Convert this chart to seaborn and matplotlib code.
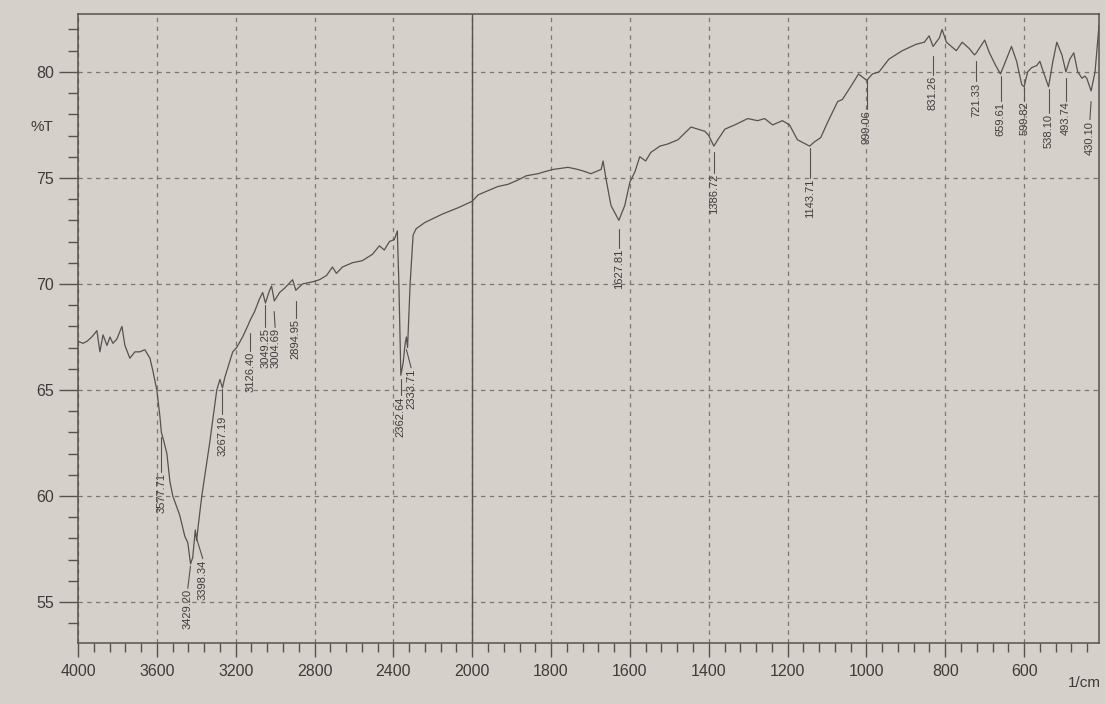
import numpy as np
import pandas as pd
import matplotlib
matplotlib.use("Agg")
import matplotlib.pyplot as plt
import seaborn as sns

# ---------------- data ----------------
wavenumber = [4000, 3975, 3954, 3930, 3904, 3889, 3873, 3853, 3838, 3823, 3803, 3777,
              3762, 3737, 3711, 3686, 3661, 3635, 3620, 3600, 3585, 3577, 3565, 3549,
              3534, 3519, 3484, 3458, 3443, 3429, 3418, 3405, 3398, 3390, 3372, 3332,
              3296, 3280, 3267, 3255, 3215, 3195, 3165, 3140, 3126, 3104, 3079, 3063,
              3049, 3028, 3018, 3004, 2977, 2952, 2911, 2895, 2861, 2810, 2775, 2739,
              2709, 2689, 2658, 2608, 2557, 2506, 2471, 2446, 2420, 2395, 2380, 2372,
              2362, 2350, 2340, 2334, 2328, 2315, 2300, 2285, 2240, 2150, 2070, 2000,
              1985, 1960, 1934, 1909, 1884, 1863, 1833, 1815, 1795, 1757, 1732, 1714,
              1699, 1686, 1673, 1668, 1661, 1648, 1628, 1613, 1600, 1587, 1575, 1560,
              1547, 1524, 1504, 1478, 1445, 1410, 1400, 1387, 1377, 1359, 1334, 1301,
              1276, 1258, 1238, 1213, 1195, 1175, 1144, 1132, 1116, 1099, 1073, 1061,
              1040, 1020, 999, 985, 968, 943, 909, 874, 853, 841, 831, 815,
              808, 797, 772, 757, 739, 726, 721, 700, 688, 672, 660, 632,
              619, 606, 600, 591, 581, 568, 560, 553, 538, 527, 517, 504,
              494, 484, 474, 464, 453, 446, 441, 430, 420, 410]
transmittance = [67.3, 67.2, 67.3, 67.5, 67.8, 66.8, 67.6, 67.1, 67.5, 67.2, 67.4, 68.0,
                 67.1, 66.5, 66.8, 66.8, 66.9, 66.5, 65.9, 65.0, 63.8, 63.0, 62.6, 62.0,
                 60.7, 60.0, 59.1, 58.1, 57.8, 56.8, 57.1, 58.4, 57.9, 58.6, 60.0, 62.5,
                 65.0, 65.5, 65.1, 65.6, 66.8, 67.0, 67.5, 68.0, 68.3, 68.7, 69.3, 69.6,
                 69.1, 69.7, 69.9, 69.2, 69.6, 69.8, 70.2, 69.7, 70.0, 70.1, 70.2, 70.4,
                 70.8, 70.5, 70.8, 71.0, 71.1, 71.4, 71.8, 71.6, 72.0, 72.1, 72.5, 70.0,
                 65.7, 66.3, 67.2, 67.5, 67.0, 70.0, 72.3, 72.6, 72.9, 73.3, 73.6, 73.9,
                 74.2, 74.4, 74.6, 74.7, 74.9, 75.1, 75.2, 75.3, 75.4, 75.5, 75.4, 75.3,
                 75.2, 75.3, 75.4, 75.8, 75.0, 73.7, 73.0, 73.7, 74.8, 75.3, 76.0, 75.8,
                 76.2, 76.5, 76.6, 76.8, 77.4, 77.2, 77.0, 76.5, 76.8, 77.3, 77.5, 77.8,
                 77.7, 77.8, 77.5, 77.7, 77.5, 76.8, 76.5, 76.7, 76.9, 77.6, 78.6, 78.7,
                 79.3, 79.9, 79.6, 79.9, 80.0, 80.6, 81.0, 81.3, 81.4, 81.7, 81.2, 81.6,
                 82.0, 81.4, 81.0, 81.4, 81.1, 80.8, 80.9, 81.5, 80.9, 80.3, 79.9, 81.2,
                 80.5, 79.4, 79.3, 80.0, 80.2, 80.3, 80.5, 80.1, 79.3, 80.5, 81.4, 80.8,
                 80.0, 80.6, 80.9, 80.0, 79.7, 79.8, 79.7, 79.1, 80.0, 82.2]

peak_labels = ["3577.71", "3429.20", "3398.34", "3267.19", "3126.40", "3049.25",
               "3004.69", "2894.95", "2362.64", "2333.71", "1627.81", "1386.72",
               "1143.71", "999.06", "831.26", "721.33", "659.61", "599.82",
               "538.10", "493.74", "430.10"]
peak_wn = [3577.71, 3429.20, 3398.34, 3267.19, 3126.40, 3049.25, 3004.69, 2894.95,
           2362.64, 2333.71, 1627.81, 1386.72, 1143.71, 999.06, 831.26, 721.33,
           659.61, 599.82, 538.10, 493.74, 430.10]

x_ticks = [4000, 3600, 3200, 2800, 2400, 2000, 1800, 1600, 1400, 1200, 1000, 800, 600]
y_ticks = [55, 60, 65, 70, 75, 80]

# ---------------- layout of the peak marks (in %T) ----------------
label_line_top = [62.8, 56.7, 58.0, 65.05, 67.7, 69.0, 68.7, 69.2, 65.5, 66.9, 72.6,
                  76.2, 76.4, 79.6, 80.75, 80.5, 79.8, 79.3, 79.2, 79.7, 78.6]
label_text_top = [61.1, 55.6, 57.0, 63.8, 66.8, 67.9, 67.9, 68.35, 64.7, 66.0, 71.65,
                  75.2, 74.95, 78.2, 79.8, 79.5, 78.6, 78.6, 78.0, 78.6, 77.7]
label_text_x = [3577.71, 3443, 3367, 3267.19, 3126.40, 3049.25, 3000, 2894.95,
                2362.64, 2310, 1627.81, 1386.72, 1143.71, 999.06, 831.26, 721.33,
                659.61, 599.82, 538.10, 493.74, 433]

# ---------------- style ----------------
sns.set_theme(style="ticks")
plt.rcParams["font.family"] = ["Liberation Sans", "DejaVu Sans"]

PAPER = "#d6d0ca"
INK = "#555250"
TXT = "#3e3c3b"
GRID = "#7a7673"

W, H = 1105, 704
fig = plt.figure(figsize=(W / 100, H / 100), dpi=100, facecolor=PAPER)
ax = fig.add_axes([78 / W, 1 - 643 / H, (1099 - 78) / W, (643 - 14) / H])
ax.set_facecolor(PAPER)


def fwd(x):
    x = np.asarray(x, dtype=float)
    return np.where(x >= 2000, x, 2 * x - 2000)


def inv(u):
    u = np.asarray(u, dtype=float)
    return np.where(u >= 2000, u, (u + 2000) / 2)


ax.set_xscale("function", functions=(fwd, inv))

df = pd.DataFrame({"wn": wavenumber, "T": transmittance})
sns.lineplot(data=df, x="wn", y="T", ax=ax, color=INK, lw=0.9, sort=False,
             estimator=None, zorder=3)

ax.set_xlim(4000, 410)
ax.set_ylim(53.07, 82.73)
ax.set_xlabel("")
ax.set_ylabel("")

ax.set_xticks(x_ticks)
ax.set_xticklabels([str(t) for t in x_ticks])
minor_x = [v for v in list(np.arange(4000, 2000, -80)) + list(np.arange(2000, 410, -40))
           if v not in x_ticks]
ax.set_xticks(minor_x, minor=True)
ax.set_yticks(y_ticks)
ax.set_yticklabels([str(t) for t in y_ticks])
ax.set_yticks([v for v in range(54, 83) if v not in y_ticks], minor=True)

ax.tick_params(axis="x", which="major", direction="out", length=10, width=1,
               color=INK, labelcolor=TXT, labelsize=11.5, pad=5)
ax.tick_params(axis="x", which="minor", direction="out", length=6.5, width=1, color=INK)
ax.tick_params(axis="y", which="major", direction="out", length=14, width=1,
               color=INK, labelcolor=TXT, labelsize=11.5, pad=3.5)
ax.tick_params(axis="y", which="minor", direction="out", length=7, width=1, color=INK)

ax.grid(which="major", axis="both", color=GRID, lw=0.9, ls=(0, (3.5, 3.5)), zorder=1)
ax.axvline(2000, color=INK, lw=1.0, zorder=2)
for s in ax.spines.values():
    s.set_color(INK)
    s.set_linewidth(1.1)
    s.set_visible(True)

for lab, wn, lt, tt, tx in zip(peak_labels, peak_wn, label_line_top, label_text_top,
                               label_text_x):
    ax.plot([wn, tx], [lt, tt + 0.05], color=INK, lw=0.8, zorder=3)
    ax.text(tx, tt, lab, rotation=90, ha="center", va="top", fontsize=8,
            color=TXT, zorder=4)

fig.text(42 / W, 1 - 127 / H, "%T", ha="center", va="center", fontsize=11, color=TXT)
fig.text(1084 / W, 1 - 683 / H, "1/cm", ha="center", va="center", fontsize=11, color=TXT)

fig.savefig("out.png", dpi=100, facecolor=PAPER)
